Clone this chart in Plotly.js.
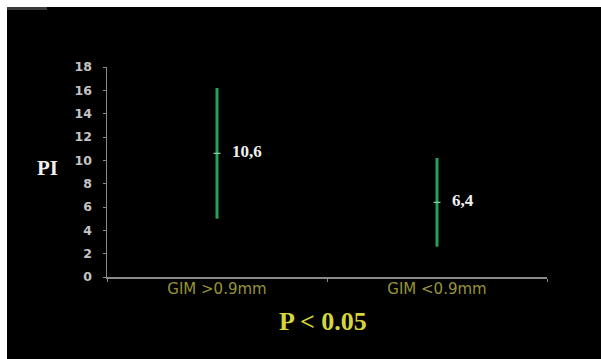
<!DOCTYPE html>
<html>
<head>
<meta charset="utf-8">
<script src="https://cdn.plot.ly/plotly-3.0.1.min.js"></script>
<style>
  html, body { margin: 0; padding: 0; background: #ffffff; width: 601px; height: 359px; overflow: hidden; }
  #frame { position: absolute; left: 7px; top: 7px; width: 594px; height: 352px; background: #000; }
  #strip { position: absolute; left: 0; top: 0; width: 40px; height: 3px; background: #3a3a3a; }
  #chart { position: absolute; left: 0; top: 0; width: 594px; height: 352px; }
</style>
</head>
<body>
<div id="frame">
  <div id="chart"></div>
  <div id="strip"></div>
</div>
<script>
// Groups, mean PI and its spread (mean ± SD)
const groups = ["GIM >0.9mm", "GIM <0.9mm"];
const meanPI = [10.6, 6.4];
const sdPI = [5.6, 3.8];
const meanLabels = ["10,6", "6,4"];
const yTicks = [0, 2, 4, 6, 8, 10, 12, 14, 16, 18];

const green = "#22a35a";

const trace = {
  type: "scatter",
  mode: "markers",
  x: groups,
  y: meanPI,
  error_y: {
    type: "data",
    array: sdPI,
    symmetric: true,
    visible: true,
    color: green,
    thickness: 3,
    width: 0
  },
  marker: {
    symbol: "line-ew",
    size: 5,
    line: { color: "#8fd3a8", width: 1.2 }
  },
  hoverinfo: "skip",
  showlegend: false
};

const valueNotes = groups.map((g, i) => ({
  x: g,
  y: meanPI[i],
  xref: "x",
  yref: "y",
  text: "<b>" + meanLabels[i] + "</b>",
  showarrow: false,
  xanchor: "left",
  yanchor: "middle",
  xshift: 13,
  yshift: 2,
  font: { family: "Liberation Serif, Times New Roman, serif", size: 17, color: "#f0f0f0" }
}));

const layout = {
  width: 594,
  height: 352,
  margin: { l: 100, r: 54, t: 60, b: 82 },
  paper_bgcolor: "#000000",
  plot_bgcolor: "#000000",
  showlegend: false,
  xaxis: {
    type: "category",
    range: [-0.5, 1.5],
    showgrid: false,
    zeroline: false,
    showline: true,
    linecolor: "#8a8a8a",
    linewidth: 1.5,
    ticks: "outside",
    tickson: "boundaries",
    ticklen: 3,
    tickcolor: "#8a8a8a",
    ticklabelstandoff: -3,
    tickfont: { family: "DejaVu Sans, Verdana, sans-serif", size: 15, color: "#969436" },
    fixedrange: true
  },
  yaxis: {
    range: [0, 18],
    tickvals: yTicks,
    showgrid: false,
    zeroline: false,
    showline: true,
    linecolor: "#8a8a8a",
    linewidth: 1.5,
    ticks: "outside",
    ticklen: 3,
    tickcolor: "#8a8a8a",
    ticklabelstandoff: 8,
    tickfont: { family: "DejaVu Sans, Verdana, sans-serif", size: 12.5, color: "#c4c4c4", weight: "bold" },
    fixedrange: true
  },
  annotations: valueNotes.concat([
    {
      xref: "paper", yref: "paper",
      x: -0.136, y: 0.52,
      text: "<b>PI</b>",
      showarrow: false,
      xanchor: "center", yanchor: "middle",
      font: { family: "Liberation Serif, Times New Roman, serif", size: 21, color: "#f0f0f0" }
    },
    {
      xref: "paper", yref: "paper",
      x: 0.491, y: -0.21,
      text: "<b>P &lt; 0.05</b>",
      showarrow: false,
      xanchor: "center", yanchor: "middle",
      font: { family: "Liberation Serif, Times New Roman, serif", size: 26, color: "#d4d63a" }
    }
  ])
};

Plotly.newPlot("chart", [trace], layout, { displayModeBar: false, staticPlot: true });
</script>
</body>
</html>
